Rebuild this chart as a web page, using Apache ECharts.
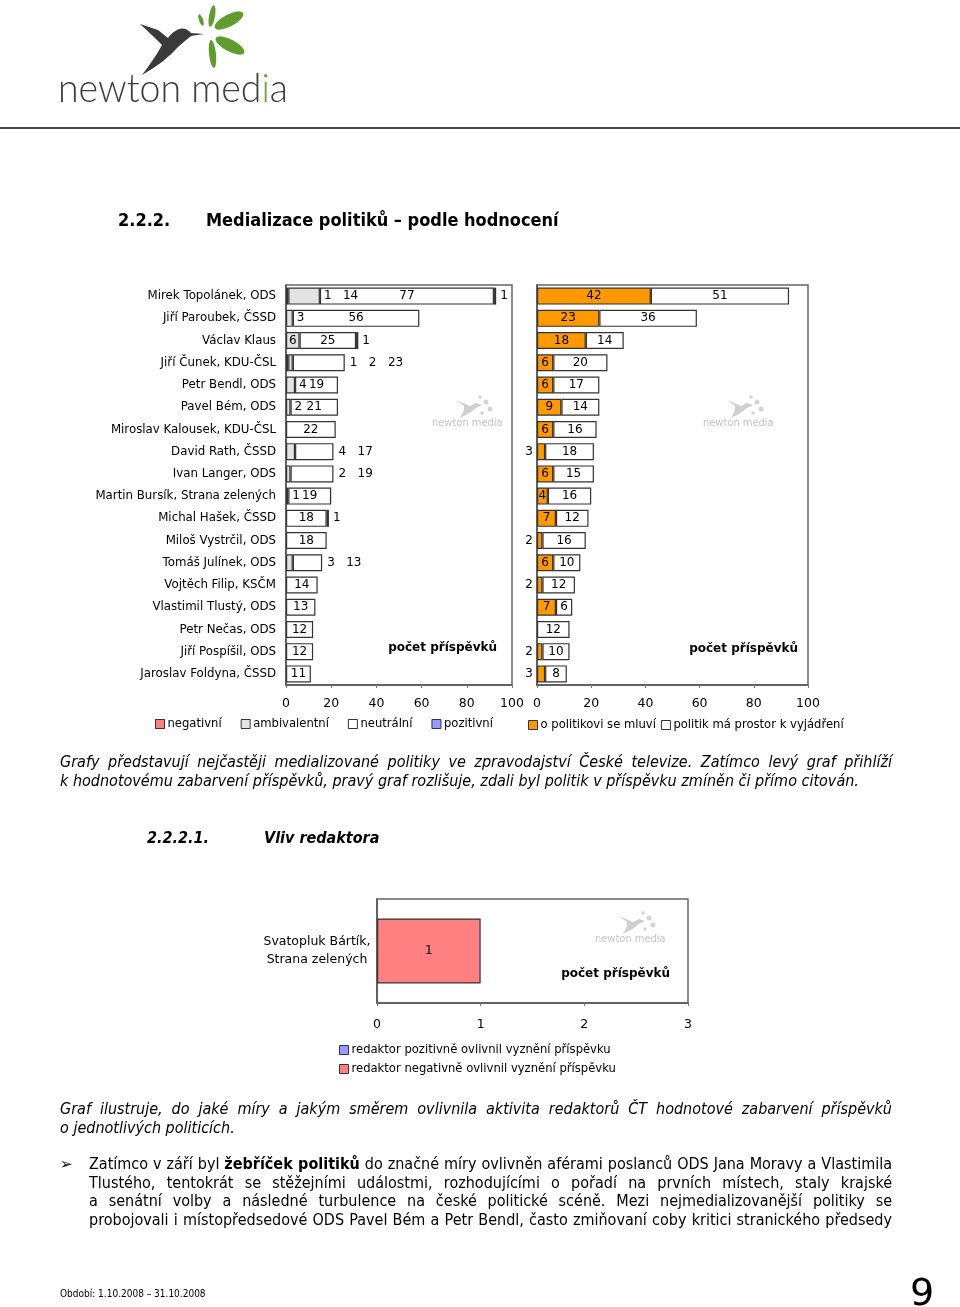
<!DOCTYPE html>
<html><head><meta charset="utf-8">
<script src="https://cdn.jsdelivr.net/npm/echarts@6/dist/echarts.min.js"></script>
<style>
html,body{margin:0;padding:0;background:#fff;}
body{width:960px;height:1307px;position:relative;overflow:hidden;font-family:"DejaVu Sans",sans-serif;color:#000;}
#chart{position:absolute;left:0;top:0;width:960px;height:1307px;}
.t{position:absolute;z-index:2;}
.para{position:absolute;z-index:2;left:60px;width:832px;font-family:"DejaVu Sans Condensed","DejaVu Sans",sans-serif;font-size:16px;line-height:19px;}
.para div{text-align:justify;text-align-last:justify;}
.para div.last{text-align-last:left;}
.it{font-style:italic;}
</style></head>
<body>
<svg class="t" style="left:0;top:0" width="320" height="125">
  <path d="M204,34 L191,33 Q186,27 179,29 Q172,32 168,38 L158,30 L140,24 L154,37 L162,45 Q155,58 142,75 Q165,62 178,47 Q186,40 191,36 Z" fill="#3a3a3a"/>
  <ellipse cx="229" cy="20.5" rx="16" ry="6" transform="rotate(-28 229 20.5)" fill="#5f9e2e"/>
  <ellipse cx="212" cy="16" rx="11" ry="3" transform="rotate(-80 212 16)" fill="#5f9e2e"/>
  <ellipse cx="230" cy="45.5" rx="16" ry="6" transform="rotate(28 230 45.5)" fill="#5f9e2e"/>
  <ellipse cx="212.5" cy="54" rx="14" ry="3.5" transform="rotate(84 212.5 54)" fill="#5f9e2e"/>
  <ellipse cx="201" cy="20" rx="6" ry="2" transform="rotate(-110 201 20)" fill="#5f9e2e"/>
  <text x="58" y="102" font-family="Lato,'DejaVu Sans'" font-weight="300" font-size="40" fill="#3d3d3d" textLength="230" lengthAdjust="spacingAndGlyphs">newton med<tspan fill="#6aa329">i</tspan>a</text>
</svg>
<div class="t" style="left:0;top:127px;width:960px;height:2px;background:#444"></div>

<div class="t" style="left:118px;top:209px;font-size:18px;font-weight:bold;font-family:'DejaVu Sans Condensed','DejaVu Sans',sans-serif;">2.2.2.</div>
<div class="t" style="left:206px;top:209px;font-size:18px;font-weight:bold;font-family:'DejaVu Sans Condensed','DejaVu Sans',sans-serif;">Medializace politiků – podle hodnocení</div>

<div class="para it" style="top:752px;">
<div>Grafy představují nejčastěji medializované politiky ve zpravodajství České televize. Zatímco levý graf přihlíží</div>
<div class="last">k hodnotovému zabarvení příspěvků, pravý graf rozlišuje, zdali byl politik v příspěvku zmíněn či přímo citován.</div>
</div>

<div class="t" style="left:147px;top:828px;font-size:16px;font-weight:bold;font-style:italic;font-family:'DejaVu Sans Condensed','DejaVu Sans',sans-serif;">2.2.2.1.</div>
<div class="t" style="left:264px;top:828px;font-size:16px;font-weight:bold;font-style:italic;font-family:'DejaVu Sans Condensed','DejaVu Sans',sans-serif;">Vliv redaktora</div>

<div class="para it" style="top:1099px;">
<div>Graf ilustruje, do jaké míry a jakým směrem ovlivnila aktivita redaktorů ČT hodnotové zabarvení příspěvků</div>
<div class="last">o jednotlivých politicích.</div>
</div>

<div class="t" style="left:60px;top:1155px;font-size:15px;">&#10146;</div>
<div class="para" style="top:1155px;left:89px;width:803px;line-height:18.7px;">
<div>Zatímco v září byl <b>žebříček politiků</b> do značné míry ovlivněn aférami poslanců ODS Jana Moravy a Vlastimila</div>
<div>Tlustého, tentokrát se stěžejními událostmi, rozhodujícími o pořadí na prvních místech, staly krajské</div>
<div>a senátní volby a následné turbulence na české politické scéně. Mezi nejmedializovanější politiky se</div>
<div>probojovali i místopředsedové ODS Pavel Bém a Petr Bendl, často zmiňovaní coby kritici stranického předsedy</div>
</div>

<div class="t" style="left:60px;top:1288px;font-size:10px;font-family:'DejaVu Sans Condensed','DejaVu Sans',sans-serif;">Období: 1.10.2008 – 31.10.2008</div>
<div class="t" style="left:910px;top:1270px;font-size:38px;">9</div>

<div id="chart"></div>
<script>
// ---- data ----
const politici = ['Mirek Topolánek, ODS','Jiří Paroubek, ČSSD','Václav Klaus','Jiří Čunek, KDU-ČSL','Petr Bendl, ODS','Pavel Bém, ODS','Miroslav Kalousek, KDU-ČSL','David Rath, ČSSD','Ivan Langer, ODS','Martin Bursík, Strana zelených','Michal Hašek, ČSSD','Miloš Vystrčil, ODS','Tomáš Julínek, ODS','Vojtěch Filip, KSČM','Vlastimil Tlustý, ODS','Petr Nečas, ODS','Jiří Pospíšil, ODS','Jaroslav Foldyna, ČSSD'];
const negativni    = [1,0,0,1,0,0,0,0,0,1,0,0,0,0,0,0,0,0];
const ambivalentni = [14,3,6,2,4,2,0,4,2,0,0,0,3,0,0,0,0,0];
const neutralni    = [77,56,25,23,19,21,22,17,19,19,18,18,13,14,13,12,12,11];
const pozitivni    = [1,0,1,0,0,0,0,0,0,0,1,0,0,0,0,0,0,0];
const mluvi        = [42,23,18,6,6,9,6,3,6,4,7,2,6,2,7,0,2,3];
const prostor      = [51,36,14,20,17,14,16,18,15,16,12,16,10,12,6,12,10,8];
const leftNames  = ['negativní','ambivalentní','neutrální','pozitivní'];
const rightNames = ['o politikovi se mluví','politik má prostor k vyjádření'];
const redaktorKat = ['Svatopluk Bártík,\nStrana zelených'];
const redaktorPoz = [0];
const redaktorNeg = [1];
const redNames = ['redaktor pozitivně ovlivnil vyznění příspěvku','redaktor negativně ovlivnil vyznění příspěvku'];
const ticksLR = [0,100,20];
const ticksBottom = [0,3,1];
const osaNazev = 'počet příspěvků';

// ---- styling / layout ----
const FONT = 'DejaVu Sans';
const BORDER = '#333';
const leftColors = ['#ff8080','#e3e3e3','#ffffff','#9999ff'];
const rightColors = ['#ff9900','#ffffff'];
const outsideRows = new Set(['Jiří Čunek, KDU-ČSL','David Rath, ČSSD','Ivan Langer, ODS','Tomáš Julínek, ODS']);
const leftSets = [negativni, ambivalentni, neutralni, pozitivni];
const lbl = {color:'#000', fontSize:12, fontFamily:FONT};

function leftLabel(s, i){
  const vals = leftSets.map(a => a[i]);
  const v = vals[s];
  if (!v) return {show:false};
  if (outsideRows.has(politici[i])) {
    let last = 3; while (!vals[last]) last--;
    if (s !== last) return {show:false};
    return Object.assign({show:true, position:'right', distance:5, formatter: vals.filter(x=>x).join('   ')}, lbl);
  }
  if (s <= 1) {
    const nz = [vals[0], vals[1]].filter(x=>x);
    if (nz.length === 1 && v >= 5) return Object.assign({show:true, position:'inside'}, lbl);
    const lastLead = vals[1] ? 1 : 0;
    if (s !== lastLead) return {show:false};
    return Object.assign({show:true, position:'right', distance:4, formatter: nz.join('   ')}, lbl);
  }
  if (s === 2) return Object.assign({show:true, position:'inside'}, lbl);
  return Object.assign({show:true, position:'right', distance:4}, lbl);
}
function item(v, label){
  return {value:v, label: label, itemStyle: v ? {} : {borderWidth:0}};
}

const series = [];
leftSets.forEach((arr, s) => {
  series.push({
    type:'bar', name:leftNames[s], xAxisIndex:0, yAxisIndex:0, stack:'L', barWidth:17,
    itemStyle:{color:leftColors[s], borderColor:BORDER, borderWidth:1.2},
    data: arr.map((v,i) => item(v, leftLabel(s,i))),
    animation:false
  });
});
series.push({
  type:'bar', name:rightNames[0], xAxisIndex:1, yAxisIndex:1, stack:'R', barWidth:17,
  itemStyle:{color:rightColors[0], borderColor:BORDER, borderWidth:1.2},
  data: mluvi.map(v => item(v, !v ? {show:false} : (v < 4 ? Object.assign({show:true, position:'left', distance:4}, lbl) : Object.assign({show:true, position:'inside'}, lbl)))),
  animation:false
});
series.push({
  type:'bar', name:rightNames[1], xAxisIndex:1, yAxisIndex:1, stack:'R', barWidth:17,
  itemStyle:{color:rightColors[1], borderColor:BORDER, borderWidth:1.2},
  data: prostor.map(v => item(v, Object.assign({show:!!v, position:'inside'}, lbl))),
  animation:false
});
series.push({
  type:'bar', name:redNames[0], xAxisIndex:2, yAxisIndex:2, stack:'B', barWidth:65,
  itemStyle:{color:'#9999ff', borderColor:BORDER, borderWidth:1.2},
  data: redaktorPoz.map(v => item(v, Object.assign({show:!!v, position:'inside'}, lbl))),
  animation:false
});
series.push({
  type:'bar', name:redNames[1], xAxisIndex:2, yAxisIndex:2, stack:'B', barWidth:65,
  itemStyle:{color:'#ff8080', borderColor:BORDER, borderWidth:1.2},
  data: redaktorNeg.map(v => item(v, Object.assign({show:!!v, position:'inside'}, lbl))),
  animation:false
});

function xAx(gi, t, margin){
  return {type:'value', gridIndex:gi, min:t[0], max:t[1], interval:t[2],
    splitLine:{show:false},
    axisLine:{show:true, lineStyle:{color:'#555', width:1.5}},
    axisTick:{show:true, length:3, lineStyle:{color:'#777'}},
    axisLabel:{color:'#000', fontSize:12.5, fontFamily:FONT, margin:margin}};
}
function yAx(gi, data, showLabels, labelExtra){
  return {type:'category', gridIndex:gi, data:data, inverse:true,
    axisLine:{show:true, lineStyle:{color:'#555', width:1.5}},
    axisTick:{show:false},
    axisLabel:Object.assign({show:showLabels, color:'#000', fontSize:11.8, fontFamily:FONT, margin:10}, labelExtra||{})};
}
const gridStyle = {show:true, borderColor:'#666', borderWidth:1.5, backgroundColor:'transparent'};
const legendBase = {icon:'rect', itemWidth:9, itemHeight:9, textStyle:{color:'#000', fontSize:11.6, fontFamily:FONT, padding:[0,0,0,-2]}, itemStyle:{borderColor:BORDER, borderWidth:1}, selectedMode:false};

function watermark(cx, cy){
  return [
    {type:'text', x:cx-36, y:cy-6, z:0, style:{text:'newton media', fill:'#c4c4c4', font:'11px "DejaVu Sans Condensed"'}},
    {type:'polygon', z:0, shape:{points:[[cx-12,cy-24],[cx+2,cy-18],[cx+8,cy-21],[cx+14,cy-19],[cx+8,cy-16],[cx,cy-10],[cx-8,cy-6],[cx-4,cy-14],[cx-4,cy-18]]}, style:{fill:'#cfcfcf'}},
    {type:'circle', z:0, shape:{cx:cx+18, cy:cy-22, r:2.5}, style:{fill:'#d4d4d4'}},
    {type:'circle', z:0, shape:{cx:cx+22, cy:cy-15, r:2.5}, style:{fill:'#d4d4d4'}},
    {type:'circle', z:0, shape:{cx:cx+12, cy:cy-27, r:1.8}, style:{fill:'#d4d4d4'}},
    {type:'circle', z:0, shape:{cx:cx+14, cy:cy-11, r:1.8}, style:{fill:'#d4d4d4'}}
  ];
}
function axisTitle(right, cy){
  return {type:'text', x:right, y:cy-7, style:{text:osaNazev, fill:'#000', font:'bold 12px "DejaVu Sans"', align:'right'}};
}

const chart = echarts.init(document.getElementById('chart'), null, {renderer:'canvas'});
chart.setOption({
  animation:false,
  grid:[
    Object.assign({left:286, top:285, width:226, height:400}, gridStyle),
    Object.assign({left:537, top:285, width:271, height:400}, gridStyle),
    Object.assign({left:377, top:899, width:311, height:104}, gridStyle)
  ],
  xAxis:[xAx(0, ticksLR, 12), xAx(1, ticksLR, 12), xAx(2, ticksBottom, 15)],
  yAxis:[
    yAx(0, politici, true),
    yAx(1, politici, false),
    yAx(2, redaktorKat, true, {align:'center', margin:60, lineHeight:18, fontSize:12.5})
  ],
  legend:[
    Object.assign({}, legendBase, {data:leftNames, left:150, top:713, itemGap:19}),
    Object.assign({}, legendBase, {data:rightNames, left:523, top:714, itemGap:5}),
    Object.assign({}, legendBase, {data:redNames, left:334, top:1039, orient:'vertical', itemGap:7})
  ],
  graphic: [].concat(
    watermark(468, 424), watermark(739, 424), watermark(631, 940),
    [axisTitle(497, 649), axisTitle(798, 650), axisTitle(670, 975)]
  ),
  series: series
});
</script>
</body></html>
